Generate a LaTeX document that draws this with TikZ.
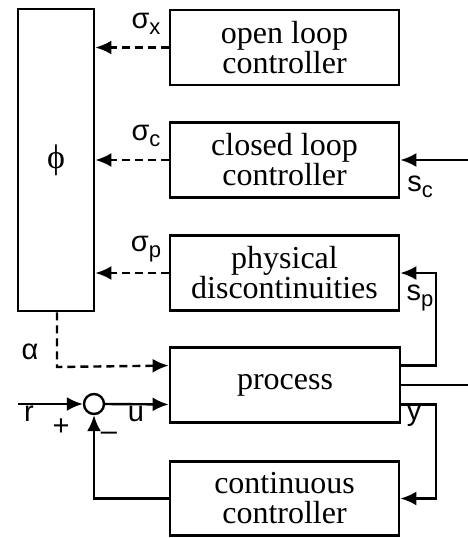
\documentclass[tikz,border=0pt]{standalone}
\usepackage{fontspec}
\setmainfont{Liberation Serif}
\setsansfont{Liberation Sans}
\usetikzlibrary{arrows.meta,calc}
\newcommand{\sublbl}[2]{#1\lower6pt\hbox{\fontsize{22}{22}\selectfont #2}}
\begin{document}
\begin{tikzpicture}[x=1pt,y=-1pt,
  blk/.style={draw, line width=2.8pt, minimum width=229pt, minimum height=75pt, align=center, font=\fontsize{32}{30}\selectfont, inner sep=0pt},
  lab/.style={font=\sffamily\fontsize{29}{29}\selectfont, inner sep=0pt},
  con/.style={line width=2.4pt, -{Latex[length=16pt,width=14pt]}},
  pln/.style={line width=2.4pt},
  dcon/.style={con, dash pattern=on 8pt off 5pt},
]
\useasboundingbox (0,0) rectangle (468,538);
% blocks
\node[draw, line width=2.8pt, minimum width=76pt, minimum height=302pt, inner sep=0pt, font=\fontsize{34}{34}\selectfont] (phi) at (56,160) {ϕ};
\node[blk] (open) at (284.5,47.5) {open loop\\controller};
\node[blk] (closed) at (284.5,160) {closed loop\\controller};
\node[blk] (phys) at (284.5,273) {physical\\discontinuities};
\node[blk, minimum width=230pt] (proc) at (285,385) {process};
\node[blk, minimum height=74pt] (cont) at (284.5,498.5) {continuous\\controller};
\node[circle, draw, line width=2.4pt, minimum size=20pt, inner sep=0pt] (sum) at (94,404) {};
% coordinates
\coordinate (rin) at (18,404);
\coordinate (scin) at (468,160);
\coordinate (pout) at (468,385);
\coordinate (pw1) at ($(proc.north west)!0.25!(proc.south west)$);
\coordinate (pw2) at ($(proc.north west)!0.75!(proc.south west)$);
\coordinate (pe1) at ($(proc.north east)!0.25!(proc.south east)$);
\coordinate (pe2) at ($(proc.north east)!0.75!(proc.south east)$);
\coordinate (pem) at (proc.east);
\coordinate (abend) at (57,367);
% dashed switching signals
\draw[dcon] (open.west) -- (open.west -| phi.east);
\draw[dcon] (closed.west) -- (closed.west -| phi.east);
\draw[dcon] (phys.west) -- (phys.west -| phi.east);
\draw[dcon] (phi.south -| abend) -- (abend) -- (pw1);
% continuous loop
\draw[con] (rin) -- (sum.west);
\draw[con] (sum.east) -- (pw2);
\draw[con] (cont.west) -| (sum.south);
\draw[con] (scin) -- (closed.east);
\draw[pln] (pem) -- (pout);
\draw[con] (pe1) -- (436,0 |- pe1) |- (phys.east);
\draw[con] (pe2) -- (436,0 |- pe2) |- (cont.east);
% labels
\node[lab] (sx) at (146,24) {\sublbl{σ}{x}};
\node[lab] (sc) at (146,136) {\sublbl{σ}{c}};
\node[lab] (sp) at (146,249) {\sublbl{σ}{p}};
\node[lab] (lsc) at (420,187) {\sublbl{s}{c}};
\node[lab] (lsp) at (420,298) {\sublbl{s}{p}};
\node[lab] (ly) at (414,416) {y};
\node[lab] (la) at (30,352) {α};
\node[lab] (lr) at (29,414) {r};
\node[lab] (lplus) at (61,427) {+};
\node[lab] (lminus) at (109,436) {\textendash};
\node[lab] (lu) at (136,414) {u};
\end{tikzpicture}
\end{document}
